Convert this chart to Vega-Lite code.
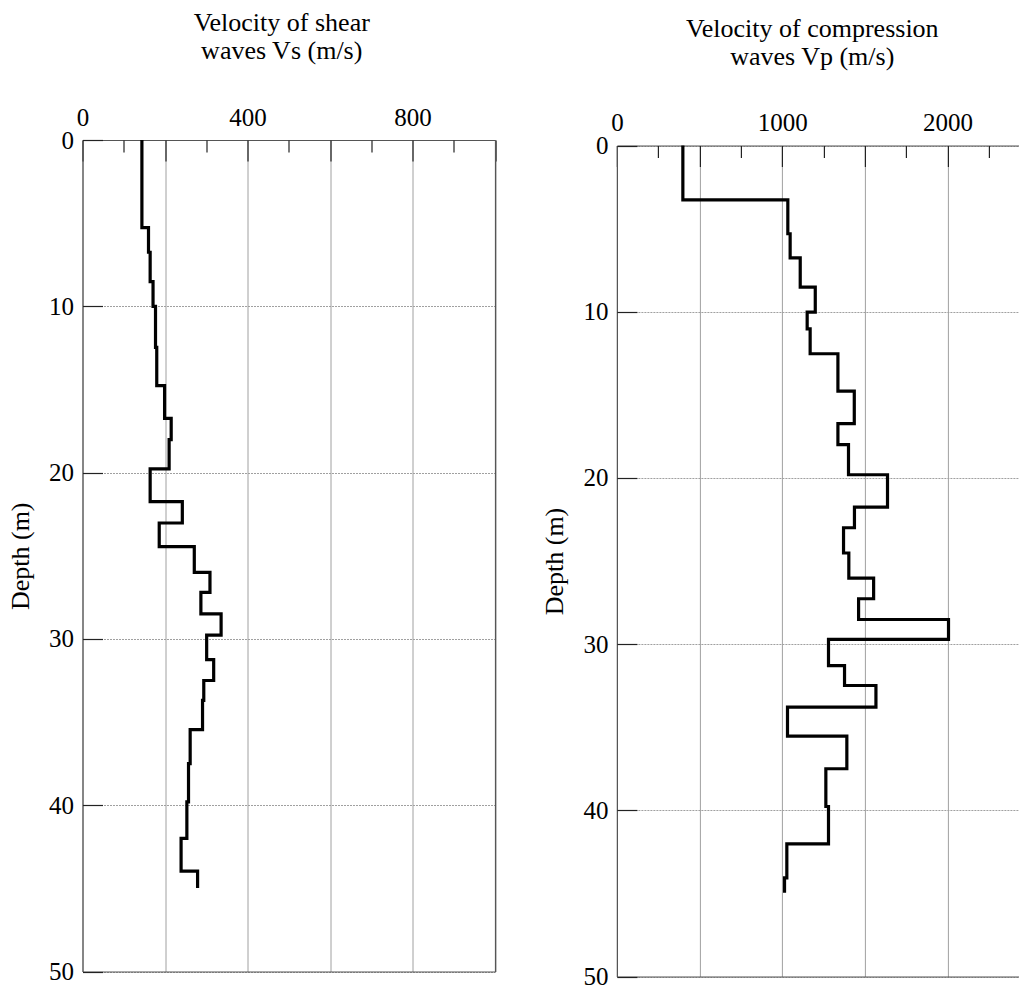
{
  "$schema": "https://vega.github.io/schema/vega-lite/v6.json",
  "background": "white",
  "padding": {"left": 7.5, "top": 10, "right": 0, "bottom": 0},
  "spacing": 45.4,
  "config": {
    "font": "Liberation Serif",
    "view": {"stroke": null},
    "axis": {
      "labelFont": "Liberation Serif", "titleFont": "Liberation Serif",
      "labelColor": "#000", "titleColor": "#000",
      "labelFontSize": 25, "titleFontSize": 26, "titleFontWeight": "normal",
      "tickColor": "#222", "tickWidth": 1.2, "domainColor": "#555", "domainWidth": 1.2,
      "gridColor": "#a0a0a0", "gridWidth": 1
    },
    "title": {"font": "Liberation Serif", "fontSize": 26, "fontWeight": "normal", "color": "#000", "lineHeight": 28}
  },
  "datasets": {
    "vs": [
      {"v": 144, "d": 0}, {"v": 160, "d": 5.27}, {"v": 164, "d": 6.75}, {"v": 171, "d": 8.52},
      {"v": 177, "d": 10.0}, {"v": 180, "d": 12.47}, {"v": 199, "d": 14.77}, {"v": 215, "d": 16.74},
      {"v": 210, "d": 18.02}, {"v": 164, "d": 19.78}, {"v": 242, "d": 21.75}, {"v": 186, "d": 23.03},
      {"v": 271, "d": 24.45}, {"v": 309, "d": 26.0}, {"v": 287, "d": 27.2}, {"v": 336, "d": 28.5},
      {"v": 301, "d": 29.77}, {"v": 318, "d": 31.25}, {"v": 294, "d": 32.5}, {"v": 291, "d": 33.7},
      {"v": 261, "d": 35.46}, {"v": 257, "d": 37.5}, {"v": 253, "d": 39.8}, {"v": 239, "d": 42.0},
      {"v": 279, "d": 43.97}, {"v": 279, "d": 44.98}
    ],
    "vp": [
      {"v": 399, "d": 0}, {"v": 1034, "d": 3.27}, {"v": 1048, "d": 5.31}, {"v": 1109, "d": 6.76},
      {"v": 1200, "d": 8.52}, {"v": 1151, "d": 10.03}, {"v": 1169, "d": 11.03}, {"v": 1337, "d": 12.53},
      {"v": 1436, "d": 14.78}, {"v": 1337, "d": 16.74}, {"v": 1401, "d": 18.0}, {"v": 1637, "d": 19.81},
      {"v": 1437, "d": 21.76}, {"v": 1371, "d": 23.0}, {"v": 1403, "d": 24.52}, {"v": 1553, "d": 26.03},
      {"v": 1462, "d": 27.27}, {"v": 2006, "d": 28.52}, {"v": 1280, "d": 29.72}, {"v": 1377, "d": 31.29},
      {"v": 1567, "d": 32.49}, {"v": 1032, "d": 33.79}, {"v": 1391, "d": 35.54}, {"v": 1264, "d": 37.5},
      {"v": 1280, "d": 39.77}, {"v": 1028, "d": 42.02}, {"v": 1014, "d": 44.06}, {"v": 1014, "d": 44.96}
    ]
  },
  "hconcat": [
    {
      "width": 412.5,
      "height": 831.5,
      "data": {"name": "vs"},
      "title": {"text": ["Velocity of shear", "waves Vs (m/s)"], "dx": -7, "offset": 41},
      "resolve": {"axis": {"x": "independent", "y": "independent"}},
      "layer": [
        {
          "mark": {"type": "line", "color": "#000", "strokeWidth": 3.2, "interpolate": "step-before"},
          "encoding": {
            "x": {"field": "v", "type": "quantitative", "scale": {"domain": [0, 1000], "nice": false},
                  "axis": {"orient": "top", "values": [0, 400, 800], "format": "d", "ticks": false, "grid": false, "domain": true,
                           "labelPadding": 10, "labelFlush": false, "labelOverlap": false, "title": null}},
            "y": {"field": "d", "type": "quantitative", "scale": {"domain": [0, 50], "nice": false, "reverse": true},
                  "axis": {"orient": "left", "values": [0, 10, 20, 30, 40, 50], "ticks": false, "grid": false, "domain": true,
                           "labelPadding": 9, "labelOverlap": false, "title": "Depth (m)", "titlePadding": 15}},
            "order": {"field": "d", "type": "quantitative"}
          }
        },
        {
          "mark": {"type": "line", "strokeOpacity": 0},
          "encoding": {
            "x": {"field": "v", "type": "quantitative",
                  "axis": {"orient": "top", "values": [100, 300, 500, 700, 900], "tickSize": 12, "offset": -12,
                           "labels": false, "domain": false, "grid": false, "title": null}},
            "y": {"field": "d", "type": "quantitative",
                  "axis": {"orient": "left", "values": [0, 10, 20, 30, 40, 50], "tickSize": 20, "offset": -20,
                           "labels": false, "domain": false, "grid": true, "gridDash": [2, 1], "title": null}},
            "order": {"field": "d", "type": "quantitative"}
          }
        },
        {
          "mark": {"type": "line", "strokeOpacity": 0},
          "encoding": {
            "x": {"field": "v", "type": "quantitative",
                  "axis": {"orient": "top", "values": [0, 200, 400, 600, 800, 1000], "tickSize": 21, "offset": -21,
                           "labels": false, "domain": false, "grid": true, "title": null}},
            "y": {"field": "d", "type": "quantitative",
                  "axis": {"orient": "right", "labels": false, "ticks": false, "domain": true, "grid": false, "title": null}},
            "order": {"field": "d", "type": "quantitative"}
          }
        },
        {
          "mark": {"type": "line", "strokeOpacity": 0},
          "encoding": {
            "x": {"field": "v", "type": "quantitative",
                  "axis": {"orient": "bottom", "labels": false, "ticks": false, "domain": true, "grid": false, "title": null}},
            "y": {"field": "d", "type": "quantitative", "axis": null},
            "order": {"field": "d", "type": "quantitative"}
          }
        }
      ]
    },
    {
      "width": 401.7,
      "height": 836.5,
      "data": {"name": "vp"},
      "title": {"text": ["Velocity of compression", "waves Vp (m/s)"], "dx": -5.5, "offset": 41},
      "resolve": {"axis": {"x": "independent", "y": "independent"}},
      "layer": [
        {
          "mark": {"type": "line", "color": "#000", "strokeWidth": 3.2, "interpolate": "step-before"},
          "encoding": {
            "x": {"field": "v", "type": "quantitative", "scale": {"domain": [0, 2430], "nice": false},
                  "axis": {"orient": "top", "values": [0, 1000, 2000], "format": "d", "ticks": false, "grid": false, "domain": true, "offset": -5.5,
                           "labelPadding": 10, "labelFlush": false, "labelOverlap": false, "title": null}},
            "y": {"field": "d", "type": "quantitative", "scale": {"domain": [0, 50], "nice": false, "range": [5.5, 836.5]},
                  "axis": {"orient": "left", "values": [0, 10, 20, 30, 40, 50], "ticks": false, "grid": false, "domain": true,
                           "labelPadding": 9, "labelOverlap": false, "title": "Depth (m)", "titlePadding": 15}},
            "order": {"field": "d", "type": "quantitative"}
          }
        },
        {
          "mark": {"type": "line", "strokeOpacity": 0},
          "encoding": {
            "x": {"field": "v", "type": "quantitative",
                  "axis": {"orient": "top", "values": [250, 750, 1250, 1750, 2250], "tickSize": 12, "offset": -17.5,
                           "labels": false, "domain": false, "grid": false, "title": null}},
            "y": {"field": "d", "type": "quantitative",
                  "axis": {"orient": "left", "values": [0, 10, 20, 30, 40, 50], "tickSize": 20, "offset": -20,
                           "labels": false, "domain": false, "grid": true, "gridDash": [2, 1], "title": null}},
            "order": {"field": "d", "type": "quantitative"}
          }
        },
        {
          "mark": {"type": "line", "strokeOpacity": 0},
          "encoding": {
            "x": {"field": "v", "type": "quantitative",
                  "axis": {"orient": "top", "values": [0, 500, 1000, 1500, 2000], "tickSize": 21, "offset": -26.5,
                           "labels": false, "domain": false, "grid": true, "title": null}},
            "y": {"field": "d", "type": "quantitative", "axis": null},
            "order": {"field": "d", "type": "quantitative"}
          }
        },
        {
          "mark": {"type": "line", "strokeOpacity": 0},
          "encoding": {
            "x": {"field": "v", "type": "quantitative",
                  "axis": {"orient": "bottom", "labels": false, "ticks": false, "domain": true, "grid": false, "title": null}},
            "y": {"field": "d", "type": "quantitative", "axis": null},
            "order": {"field": "d", "type": "quantitative"}
          }
        }
      ]
    }
  ]
}
